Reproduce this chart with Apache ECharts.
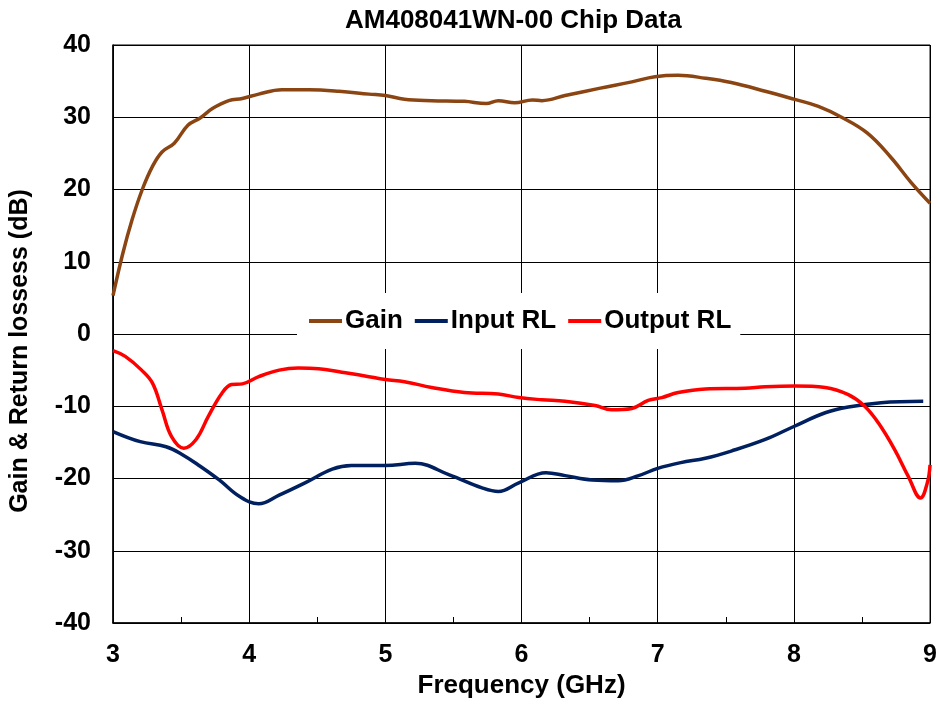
<!DOCTYPE html>
<html>
<head>
<meta charset="utf-8">
<script src="https://cdn.jsdelivr.net/npm/echarts@6/dist/echarts.min.js"></script>
<style>html,body{margin:0;padding:0;background:#fff}#c{width:940px;height:705px}</style>
</head>
<body>
<div id="c"></div>
<script>
var seriesNames = ['Gain', 'Input RL', 'Output RL'];
var xTicks = [3, 4, 5, 6, 7, 8, 9];
var yTicks = [-40, -30, -20, -10, 0, 10, 20, 30, 40];

var gainFreq = [3.0, 3.07, 3.14, 3.215, 3.29, 3.36, 3.45, 3.55, 3.64, 3.73, 3.85, 3.95, 4.07, 4.24, 4.44, 4.66, 4.88, 5.0, 5.14, 5.34, 5.58, 5.74, 5.83, 5.95, 6.08, 6.15, 6.32, 6.57, 6.81, 6.98, 7.15, 7.35, 7.54, 7.79, 8.0, 8.18, 8.35, 8.54, 8.71, 8.86, 9.0];
var gainVal = [5.3, 11, 15.8, 20, 23.2, 25.2, 26.4, 28.9, 29.9, 31.2, 32.3, 32.6, 33.2, 33.8, 33.8, 33.6, 33.2, 33.0, 32.5, 32.3, 32.2, 31.9, 32.3, 32.0, 32.4, 32.3, 33.0, 34.0, 34.9, 35.6, 35.8, 35.4, 34.8, 33.6, 32.5, 31.5, 30.0, 27.8, 24.5, 21.0, 18.1];

var inFreq = [3.0, 3.2, 3.39, 3.51, 3.64, 3.78, 3.93, 4.07, 4.22, 4.41, 4.61, 4.75, 5.0, 5.22, 5.47, 5.71, 5.83, 5.98, 6.18, 6.32, 6.52, 6.71, 6.86, 7.0, 7.17, 7.35, 7.54, 7.79, 8.0, 8.23, 8.4, 8.64, 8.95];
var inVal = [-13.5, -14.9, -15.6, -16.7, -18.3, -20.2, -22.5, -23.5, -22.3, -20.6, -18.7, -18.2, -18.2, -17.9, -19.5, -21.3, -21.8, -20.6, -19.2, -19.6, -20.2, -20.3, -19.6, -18.6, -17.8, -17.2, -16.2, -14.6, -12.8, -10.9, -10.1, -9.5, -9.3];

var outFreq = [3.0, 3.09, 3.21, 3.29, 3.36, 3.43, 3.52, 3.61, 3.70, 3.80, 3.87, 3.95, 4.07, 4.22, 4.36, 4.51, 4.68, 4.85, 5.0, 5.14, 5.34, 5.58, 5.83, 5.98, 6.15, 6.32, 6.54, 6.66, 6.81, 6.93, 7.03, 7.15, 7.35, 7.64, 7.79, 8.01, 8.23, 8.40, 8.52, 8.62, 8.74, 8.84, 8.93, 8.98, 9.0];
var outVal = [-2.3, -3.1, -5.0, -6.8, -10.5, -14.2, -15.8, -14.6, -11.4, -8.2, -7.0, -6.9, -5.9, -5.0, -4.7, -4.8, -5.3, -5.8, -6.3, -6.6, -7.4, -8.1, -8.3, -8.8, -9.1, -9.3, -9.9, -10.5, -10.3, -9.2, -8.8, -8.1, -7.6, -7.5, -7.3, -7.2, -7.4, -8.4, -10.0, -12.3, -16.0, -19.7, -22.7, -20.6, -18.1];

function pairs(xs, ys) { return xs.map(function (x, i) { return [x, ys[i]]; }); }

var FONT = '"Liberation Sans", Arial, sans-serif';
var chart = echarts.init(document.getElementById('c'), null, {renderer: 'canvas'});
chart.setOption({
  animation: false,
  backgroundColor: '#fff',
  title: {
    text: 'AM408041WN-00 Chip Data',
    left: 340, top: 3,
    textStyle: {fontFamily: FONT, fontWeight: 'bold', fontSize: 26, color: '#000'}
  },
  legend: {
    data: seriesNames,
    left: 297, top: 293,
    backgroundColor: '#fff',
    padding: [15, 9, 15, 12],
    itemGap: 12,
    itemWidth: 33, itemHeight: 4,
    icon: 'rect',
    z: 10,
    textStyle: {fontFamily: FONT, fontWeight: 'bold', fontSize: 26, color: '#000', padding: [0, 0, 0, -2]}
  },
  grid: {left: 113, right: 8, top: 45, bottom: 82, show: true, borderColor: '#000', borderWidth: 1, containLabel: false},
  xAxis: {
    type: 'value', min: xTicks[0], max: xTicks[xTicks.length - 1], interval: 1,
    name: 'Frequency (GHz)', nameLocation: 'middle', nameGap: 50,
    nameTextStyle: {fontFamily: FONT, fontWeight: 'bold', fontSize: 26, color: '#000'},
    axisLine: {onZero: false, lineStyle: {color: '#000', width: 1.5}},
    axisTick: {show: true, inside: true, length: 6, lineStyle: {color: '#000'}},
    minorTick: {show: true, splitNumber: 2, length: 6, lineStyle: {color: '#000'}},
    splitLine: {show: true, lineStyle: {color: '#000', width: 1}},
    axisLabel: {margin: 20, fontFamily: FONT, fontWeight: 'bold', fontSize: 25, color: '#000'}
  },
  yAxis: {
    type: 'value', min: yTicks[0], max: yTicks[yTicks.length - 1], interval: 10,
    name: 'Gain & Return lossess (dB)', nameLocation: 'middle', nameGap: 80,
    nameTextStyle: {fontFamily: FONT, fontWeight: 'bold', fontSize: 25, color: '#000', padding: [0, 34, 0, 0]},
    axisLine: {show: true, onZero: false, lineStyle: {color: '#000', width: 1.5}},
    axisTick: {show: true, inside: true, length: 6, lineStyle: {color: '#000'}},
    splitLine: {show: true, lineStyle: {color: '#000', width: 1}},
    axisLabel: {margin: 22, fontFamily: FONT, fontWeight: 'bold', fontSize: 25, color: '#000'}
  },
  series: [
    {name: seriesNames[0], type: 'line', data: pairs(gainFreq, gainVal), smooth: 0.4, showSymbol: false, color: '#8B4513', lineStyle: {width: 3.5, color: '#8B4513'}, z: 3},
    {name: seriesNames[1], type: 'line', data: pairs(inFreq, inVal), smooth: 0.4, showSymbol: false, color: '#002060', lineStyle: {width: 3.5, color: '#002060'}, z: 3},
    {name: seriesNames[2], type: 'line', data: pairs(outFreq, outVal), smooth: 0.4, showSymbol: false, color: '#FF0000', lineStyle: {width: 3.5, color: '#FF0000'}, z: 3}
  ]
});
</script>
</body>
</html>
